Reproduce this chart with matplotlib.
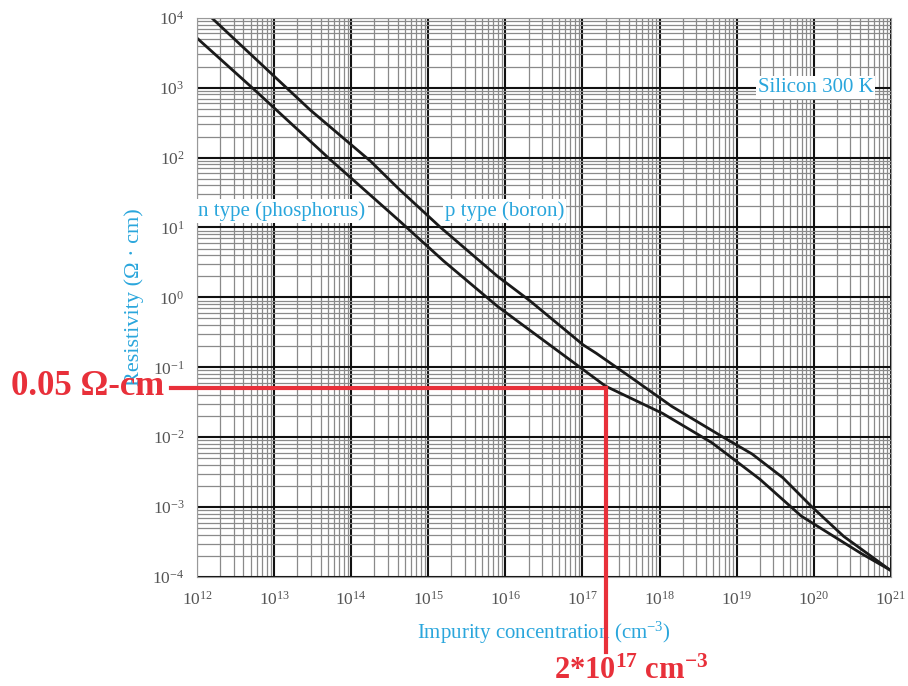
import numpy as np
import matplotlib
matplotlib.use("Agg")
from matplotlib import pyplot as plt

# log10 of impurity concentration (cm^-3) and log10 of resistivity (ohm cm)
p_logN = [12.19, 13.47, 14.25, 14.61, 15.15, 15.90, 16.32, 17.01, 17.18, 17.61, 18.16, 18.81, 19.20, 19.60, 19.97, 20.39, 20.99]
p_logrho = [4.00, 2.68, 1.95, 1.56, 1.01, 0.30, -0.05, -0.68, -0.80, -1.13, -1.56, -1.99, -2.24, -2.58, -2.99, -3.42, -3.90]
n_logN = [12.00, 12.745, 13.73, 14.61, 15.20, 15.90, 16.60, 17.30, 18.04, 18.68, 19.30, 19.84, 20.61, 20.99]
n_logrho = [3.71, 2.97, 1.97, 1.11, 0.52, -0.13, -0.70, -1.27, -1.66, -2.08, -2.60, -3.13, -3.66, -3.90]

mark_N = 2e17
mark_rho = 0.05

x_decades = list(range(12, 22))
y_decades = list(range(-4, 5))

cyan = "#2aa6dc"
red = "#e8303a"

plt.rcParams["font.family"] = ["Liberation Serif", "DejaVu Serif"]
plt.rcParams["mathtext.default"] = "regular"

fig = plt.figure(figsize=(9.08, 6.86), dpi=100)
ax = fig.add_axes([0.217, 0.159, 0.764, 0.815])

ax.plot(10 ** np.array(p_logN), 10 ** np.array(p_logrho), color="#1a1a1a", lw=2)
ax.plot(10 ** np.array(n_logN), 10 ** np.array(n_logrho), color="#1a1a1a", lw=2)

ax.set_xscale("log")
ax.set_yscale("log")
ax.set_xlim(1e12, 1e21)
ax.set_ylim(1e-4, 1e4)
ax.set_xticks([10.0 ** d for d in x_decades])
ax.set_yticks([10.0 ** d for d in y_decades])
ax.set_xticklabels(["$10^{%d}$" % d for d in x_decades])
ax.set_yticklabels(["$10^{%d}$" % d for d in y_decades])
ax.tick_params(which="both", length=0, labelsize=12.5, colors="#555555")
ax.tick_params(axis="x", pad=10)
ax.tick_params(axis="y", pad=9)

ax.grid(which="major", color="#111111", lw=1.5)
ax.grid(which="minor", color="#8a8a8a", lw=0.9)
ax.set_axisbelow(True)
for s in ax.spines.values():
    s.set_color("#999999")
    s.set_linewidth(0.8)

ax.set_xlabel("Impurity concentration (cm$^{-3}$)", color=cyan, fontsize=15, labelpad=8)
ax.set_ylabel("Resistivity (Ω · cm)", color=cyan, fontsize=16, labelpad=6)

box = dict(facecolor="white", edgecolor="none", pad=1.5)
ax.text(0.975, 0.875, "Silicon 300 K", transform=ax.transAxes, color=cyan,
        fontsize=15, ha="right", va="center", bbox=box)
ax.text(0.002, 0.655, "n type (phosphorus)", transform=ax.transAxes, color=cyan,
        fontsize=15, ha="left", va="center", bbox=box)
ax.text(0.357, 0.655, "p type (boron)", transform=ax.transAxes, color=cyan,
        fontsize=15, ha="left", va="center", bbox=box)

# red read-off lines, extended outside the axes
inv = ax.transData.inverted()
x_left = inv.transform(ax.transAxes.transform((-0.038, 0)))[0]
y_bottom = inv.transform(ax.transAxes.transform((0, -0.135)))[1]
ax.plot([x_left, mark_N], [mark_rho, mark_rho], color=red, lw=3, clip_on=False, zorder=5)
ax.plot([mark_N, mark_N], [mark_rho, y_bottom], color=red, lw=3, clip_on=False, zorder=5)

fig.text(0.012, 0.437, "0.05 Ω-cm", color=red, fontsize=25, fontweight="bold",
         ha="left", va="center")
fig.text(0.61, 0.022, "2*10$^{17}$ cm$^{-3}$", color=red, fontsize=22, fontweight="bold",
         ha="left", va="center")

fig.savefig("out.png", dpi=100)
